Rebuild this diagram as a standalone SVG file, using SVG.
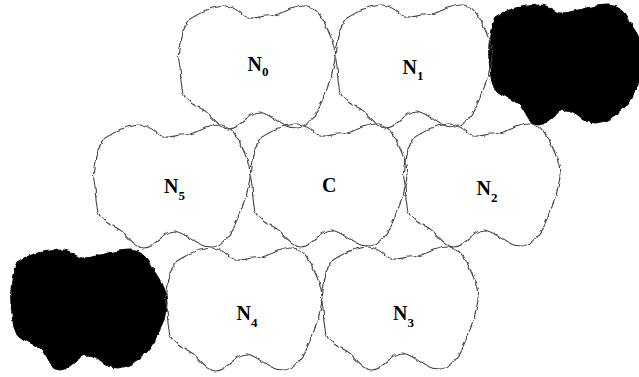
<svg xmlns="http://www.w3.org/2000/svg" xmlns:xlink="http://www.w3.org/1999/xlink" width="639" height="377" viewBox="0 0 639 377">
<style>
.cell{fill:none;stroke:#444;stroke-width:1.1;stroke-linejoin:round;filter:url(#rough)}
.dark{fill:#000;stroke:#000;stroke-width:1;filter:url(#rough)}
.lbl{font-family:"Liberation Serif","Times New Roman",serif;font-weight:bold;font-size:20px;fill:#000}
.sub{font-size:13px}
</style>
<defs>
<filter id="rough" x="-5%" y="-5%" width="110%" height="110%">
<feTurbulence type="fractalNoise" baseFrequency="0.13" numOctaves="2" seed="4" result="n"/>
<feDisplacementMap in="SourceGraphic" in2="n" scale="4.5" xChannelSelector="R" yChannelSelector="G"/>
</filter>
<path id="wshape" d="M10,16 C22,8 36,1 48,1 C60,1 66,12 72,13 C78,14 84,11 90,11 C102,11 116,1 128,1 C138,1 144,10 148,19 C153,30 158,40 158,50 C158,66 150,82 145,96 C140,108 130,123 120,123 C104,123 92,107 82,107 C72,107 62,124 52,124 C42,124 34,108 25,104 C16,100 9,96 6,88 C3,78 4,64 2,55 C0,44 6,26 10,16 Z"/>
<path id="bshape" d="M7,14 C18,6 38,2 52,2 C62,2 66,10 73,10 C84,10 104,2 120,2 C130,2 138,10 142,19 C150,30 157,42 157,55 C157,68 150,80 146,90 C140,106 120,120 107,120 C95,120 88,107 78,107 C68,107 60,122 50,122 C40,122 38,106 30,100 C20,94 6,90 4,80 C2,68 0,52 1,42 C2,30 4,20 7,14 Z"/>
</defs>
<rect width="639" height="377" fill="#fff"/>
<g id="connectors"></g>
<g id="blackTR"><use xlink:href="#bshape" href="#bshape" class="dark" transform="translate(488,3)"/></g>
<g id="blackBL"><use xlink:href="#bshape" href="#bshape" class="dark" transform="translate(10,248)"/></g>
<g id="N0"><use xlink:href="#wshape" href="#wshape" class="cell" transform="translate(177,5)"/><text class="lbl" x="247.5" y="71">N<tspan class="sub" dy="5">0</tspan></text></g>
<g id="N1"><use xlink:href="#wshape" href="#wshape" class="cell" transform="translate(334,4)"/><text class="lbl" x="402.5" y="74">N<tspan class="sub" dy="6">1</tspan></text></g>
<g id="N5"><use xlink:href="#wshape" href="#wshape" class="cell" transform="translate(92,124)"/><text class="lbl" x="164" y="193">N<tspan class="sub" dy="7">5</tspan></text></g>
<g id="C"><use xlink:href="#wshape" href="#wshape" class="cell" transform="translate(249,123)"/><text class="lbl" x="322" y="192">C</text></g>
<g id="N2"><use xlink:href="#wshape" href="#wshape" class="cell" transform="translate(402,123)"/><text class="lbl" x="476.5" y="195">N<tspan class="sub" dy="7">2</tspan></text></g>
<g id="N4"><use xlink:href="#wshape" href="#wshape" class="cell" transform="translate(164,247)"/><text class="lbl" x="236.5" y="320">N<tspan class="sub" dy="7">4</tspan></text></g>
<g id="N3"><use xlink:href="#wshape" href="#wshape" class="cell" transform="translate(320,246)"/><text class="lbl" x="393" y="320">N<tspan class="sub" dy="7">3</tspan></text></g>
</svg>
